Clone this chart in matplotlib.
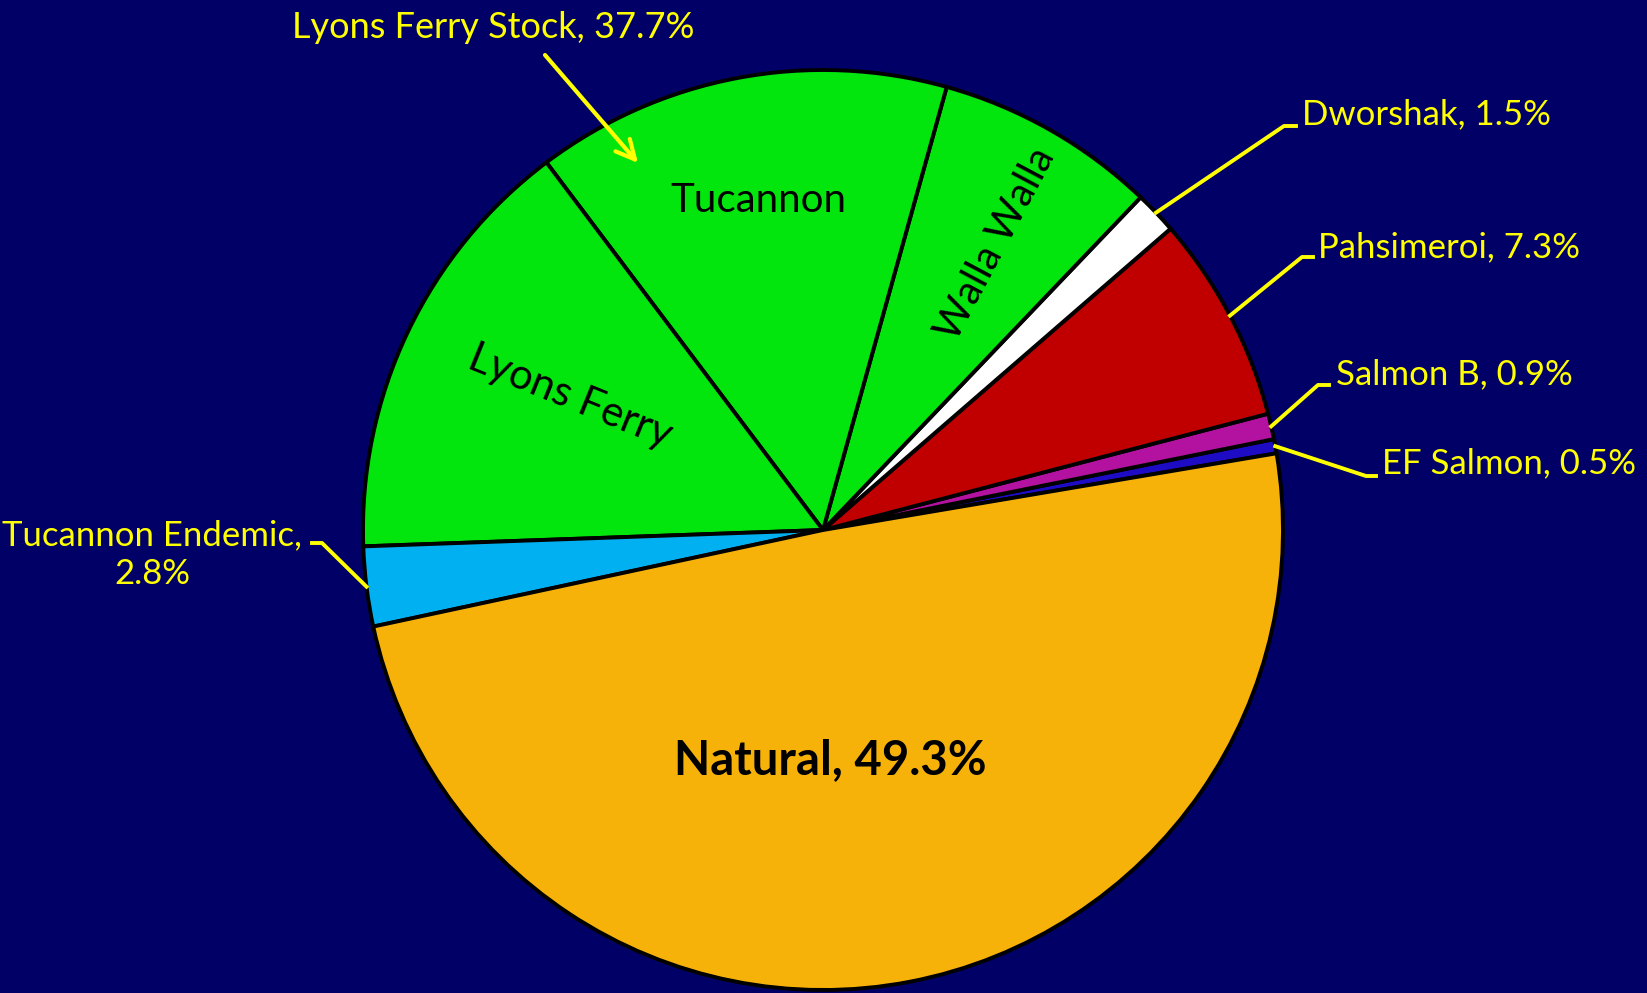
import matplotlib.pyplot as plt
import numpy as np

# ---- data (counterclockwise from the Natural / EF Salmon edge) ----
names = ['EF Salmon', 'Salmon B', 'Pahsimeroi', 'Dworshak', 'Walla Walla',
         'Tucannon', 'Lyons Ferry', 'Tucannon Endemic', 'Natural']
shares = [0.5, 0.9, 7.3, 1.5, 7.8, 14.6, 15.3, 2.8, 49.3]
colors = ['#1E0CC4', '#B2129F', '#C00000', '#FFFFFF', '#02E60E',
          '#02E60E', '#02E60E', '#00B0F0', '#F7B20A']
stock_name = 'Lyons Ferry Stock'
stock_share = 37.7

W, H = 1647, 993
BG = '#000066'
YEL = '#FFFF00'

plt.rcParams['font.family'] = ['Lato', 'DejaVu Sans']

fig = plt.figure(figsize=(W / 100, H / 100), dpi=100, facecolor=BG)
ax = fig.add_axes([0, 0, 1, 1], facecolor=BG)

# pie centre / radius in pixels (y measured from top in the reference)
cx, cy, R = 823, H - 530, 460
wedges, _ = ax.pie(shares, colors=colors, startangle=9.6, center=(cx, cy),
                   radius=R, frame=True,
                   wedgeprops=dict(edgecolor='black', linewidth=2.8))
ax.set_xlim(0, W)
ax.set_ylim(0, H)
ax.set_aspect('equal')
ax.axis('off')


def edge_point(i):
    w = wedges[i]
    a = np.deg2rad((w.theta1 + w.theta2) / 2)
    return cx + R * np.cos(a), cy + R * np.sin(a)


def pct(v):
    return f'{v:.1f}%'


FS = 25
LW = 2.8

# ---- outer labels with leader lines (pixel coords, top-down y) ----
outer = {
    # idx: (elbow start x, elbow end x, elbow y, text x, text y)
    3: (1284, 1296, 126, 1302, 114),
    2: (1302, 1313, 257, 1318, 247),
    1: (1318, 1329, 385, 1336, 374),
}
for i, (x0, x1, ly, tx, ty) in outer.items():
    ex, ey = edge_point(i)
    ax.plot([ex, x0, x1], [ey, H - ly, H - ly], color=YEL, lw=LW)
    ax.text(tx, H - ty, f'{names[i]}, {pct(shares[i])}', color=YEL,
            fontsize=FS, ha='left', va='center')

# EF Salmon: leader goes down-right
ex, ey = edge_point(0)
ax.plot([ex, 1366, 1376], [ey, H - 476, H - 476], color=YEL, lw=LW)
ax.text(1382, H - 463, f'{names[0]}, {pct(shares[0])}', color=YEL,
        fontsize=FS, ha='left', va='center')

# Tucannon Endemic, on the left
ex, ey = edge_point(7)
ax.plot([ex, 322, 312], [ey, H - 543, H - 543], color=YEL, lw=LW)
ax.text(152, H - 555, f'{names[7]},\n{pct(shares[7])}', color=YEL,
        fontsize=FS, ha='center', va='center', multialignment='center',
        linespacing=1.25)

# Lyons Ferry Stock with arrow
ax.text(292, H - 28, f'{stock_name}, {pct(stock_share)}', color=YEL,
        fontsize=FS + 1, ha='left', va='center')
ax.annotate('', xy=(638, H - 163), xytext=(545, H - 55),
            arrowprops=dict(arrowstyle='->', mutation_scale=34, lw=3,
                            color=YEL, shrinkA=0, shrinkB=0))

# ---- inner labels ----
ax.text(758, H - 201, names[5], fontsize=29, ha='center', va='center')
ax.text(570, H - 397, names[6], fontsize=30, ha='center', va='center',
        rotation=-22, rotation_mode='anchor')
ax.text(996, H - 244, names[4], fontsize=29, ha='center', va='center',
        rotation=62, rotation_mode='anchor')
ax.text(830, H - 760, f'{names[8]}, {pct(shares[8])}', fontsize=34,
        fontweight='bold', ha='center', va='center')

fig.savefig('out.png', dpi=100, facecolor=BG)
